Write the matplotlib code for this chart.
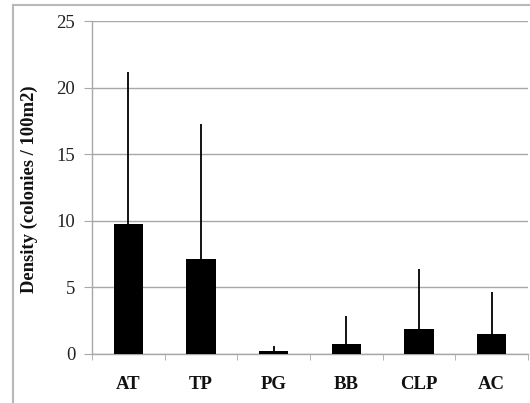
import matplotlib
matplotlib.use("Agg")
import matplotlib.pyplot as plt
from matplotlib.lines import Line2D
import numpy as np

categories = ["AT", "TP", "PG", "BB", "CLP", "AC"]
means = [9.75, 7.1, 0.2, 0.75, 1.88, 1.52]
upper_err = [11.45, 10.17, 0.4, 2.1, 4.52, 3.11]
yticks = [0, 5, 10, 15, 20, 25]

W, H = 530, 403
fig = plt.figure(figsize=(W / 100, H / 100), dpi=100)
ax = fig.add_axes([92 / W, 1 - 354 / H, (528 - 92) / W, (354 - 21) / H])

x = np.arange(len(categories))
ax.bar(x, means, width=0.4, color="black", zorder=3)
ax.errorbar(x, means, yerr=[np.zeros(len(means)), upper_err], fmt="none",
            ecolor="black", elinewidth=1.3, capsize=0, zorder=4)

ax.set_xlim(-0.5, len(categories) - 0.5)
ax.set_ylim(0, 25)
ax.set_yticks(yticks)
ax.set_yticklabels([str(v) for v in yticks], fontfamily="Liberation Serif", fontsize=13.5)
ax.yaxis.grid(True, color="#a8a8a8", linewidth=1.0, zorder=0)
ax.tick_params(axis="y", length=6, color="#a8a8a8", pad=6, labelcolor="#222222")

ax.set_xticks(x)
ax.set_xticklabels(categories, fontfamily="Liberation Serif", fontweight="bold", fontsize=13.5)
ax.tick_params(axis="x", which="major", length=0, pad=16, labelcolor="#111111")
ax.set_xticks(np.arange(-0.5, len(categories) + 0.5, 1.0), minor=True)
ax.tick_params(axis="x", which="minor", length=4, color="#a8a8a8")

for s in ["top", "right"]:
    ax.spines[s].set_visible(False)
for s in ["left", "bottom"]:
    ax.spines[s].set_color("#a8a8a8")
    ax.spines[s].set_linewidth(1.0)

ax.set_ylabel("Density (colonies / 100m2)", fontfamily="Liberation Serif",
              fontweight="bold", fontsize=13.4, color="#111111")
ax.yaxis.set_label_coords((38 - 92) / (528 - 92), 0.494)

# outer gray frame
fig.add_artist(Line2D([13 / W, 13 / W], [0, 1 - 5 / H], transform=fig.transFigure,
                      color="#b8b8b8", linewidth=1.5))
fig.add_artist(Line2D([13 / W, 1], [1 - 5 / H, 1 - 5 / H], transform=fig.transFigure,
                      color="#b8b8b8", linewidth=1.5))

fig.savefig("out.png", dpi=100)
